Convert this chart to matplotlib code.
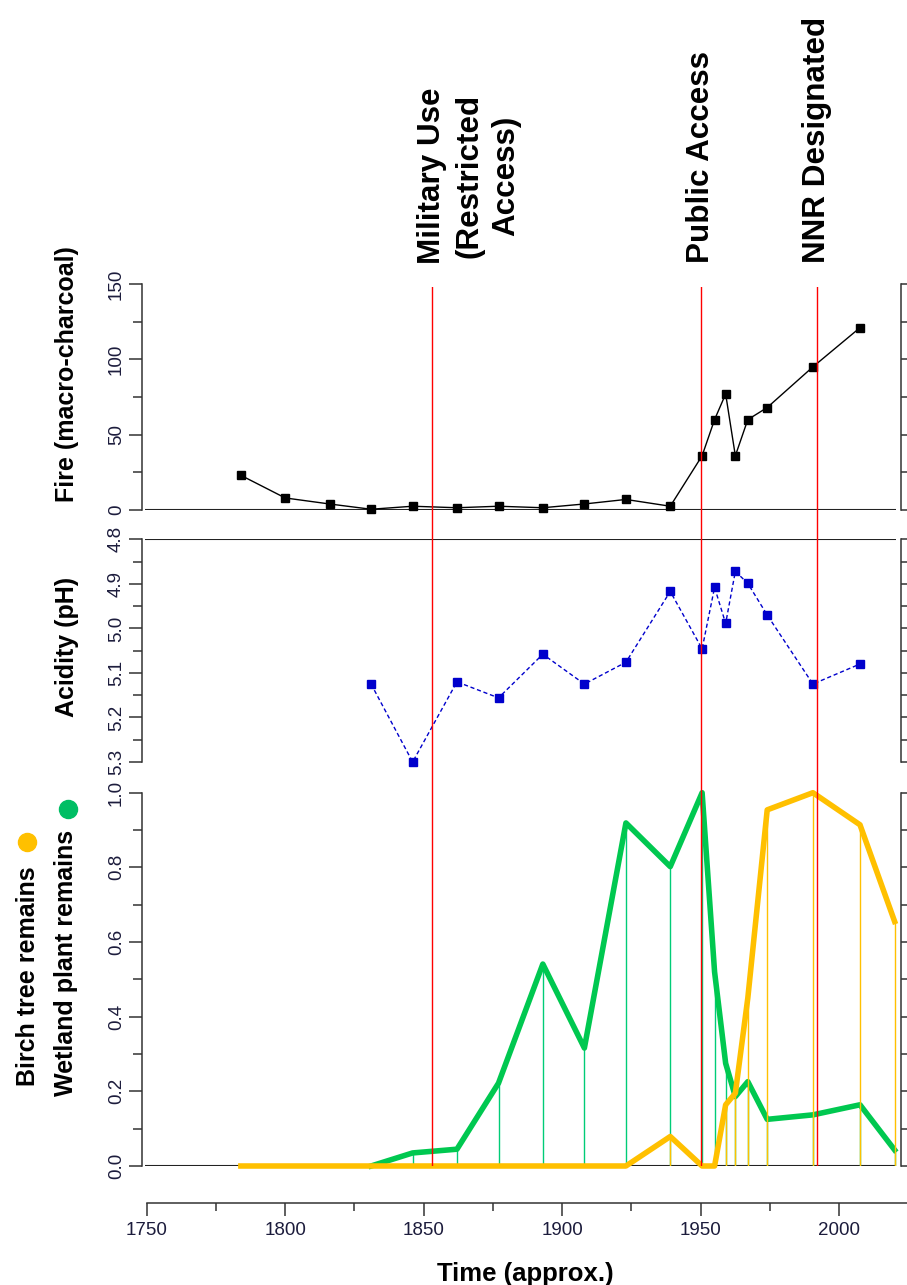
import numpy as np
import matplotlib
matplotlib.use('Agg')
import matplotlib.pyplot as plt
from matplotlib.lines import Line2D
from matplotlib.ticker import MultipleLocator, FixedLocator
from matplotlib import transforms

# ---- data ----
years = [1784, 1800, 1816, 1831, 1846, 1862, 1877, 1893, 1908, 1923, 1939,
         1950.5, 1955, 1959, 1962.5, 1967, 1974, 1990.5, 2007.5]
fire = [23, 8, 4, 0.5, 2.5, 1.5, 2.5, 1.5, 4, 7, 2.5,
        36, 60, 77, 36, 60, 68, 95, 121]

ph_years = years[3:]
ph = [5.125, 5.30, 5.12, 5.156, 5.058, 5.125, 5.076, 4.917,
      5.046, 4.908, 4.989, 4.872, 4.899, 4.970, 5.125, 5.080]

plant_years = years + [2020]
wetland = [0, 0, 0, 0, 0.035, 0.045, 0.222, 0.541, 0.316, 0.919, 0.802,
           1.0, 0.52, 0.275, 0.186, 0.226, 0.125, 0.137, 0.164, 0.043]
birch = [0, 0, 0, 0, 0, 0, 0, 0, 0, 0, 0.079,
         0, 0, 0.164, 0.195, 0.45, 0.954, 1.0, 0.914, 0.655]

event_years = [1853, 1950, 1992]
event_labels = [['Military Use', '(Restricted', 'Access)'], ['Public Access'], ['NNR Designated']]

time_major = [1750, 1800, 1850, 1900, 1950, 2000]
time_minor = [1775, 1825, 1875, 1925, 1975]

# ---- layout helpers (pixels) ----
W, H = 907, 1285
XLIM = (1748.3, 2022.3)


def box(left, top, right, bottom):
    return [left / W, 1 - bottom / H, (right - left) / W, (bottom - top) / H]


font = 'Liberation Sans'
tick_col = '#1c1c3c'
axis_col = '#333333'

GREEN = '#00C850'
GREEN_STEM = '#00CC77'
YELLOW = '#FFC000'

fig = plt.figure(figsize=(W / 100, H / 100), dpi=100)


def style_panel(ax, lo, hi, major, minor, fmt):
    ax.set_xlim(*XLIM)
    ax.set_ylim(lo, hi)
    for s in ['top', 'bottom']:
        ax.spines[s].set_visible(False)
    for s in ['left', 'right']:
        ax.spines[s].set_linewidth(1.1)
        ax.spines[s].set_color(axis_col)
    ax.set_xticks([])
    ax.yaxis.set_major_locator(MultipleLocator(major))
    ax.yaxis.set_minor_locator(MultipleLocator(minor))
    ax.tick_params(axis='y', which='both', direction='out', left=True, right=True,
                   labelright=False, width=1.1, color=axis_col, pad=3)
    ax.tick_params(axis='y', which='major', length=9.4)
    ax.tick_params(axis='y', which='minor', length=6.5)
    ax.yaxis.set_major_formatter(fmt)
    for lab in ax.get_yticklabels():
        lab.set_rotation(90)
        lab.set_va('center')
        lab.set_fontfamily(font)
        lab.set_fontsize(13.5)
        lab.set_color(tick_col)
    ax.patch.set_alpha(0)
    # baseline along the bottom of each panel
    base = hi if lo > hi else lo
    ax.hlines(base, 1749.5, 2020.5, color='#222222', lw=1.5, zorder=1)


# Fire panel
ax1 = fig.add_axes(box(142, 284, 901, 510))
ax1.plot(years, fire, color='black', lw=1.0, marker='s', ms=5.2, clip_on=False, zorder=3)
style_panel(ax1, 0, 150, 50, 25, lambda v, p: '%d' % v)

# Acidity panel (inverted)
ax2 = fig.add_axes(box(142, 539.3, 901, 762))
ax2.plot(ph_years, ph, color='#0000CC', lw=1.0, ls=(0, (3, 2)), marker='s', ms=5.2,
         clip_on=False, zorder=3)
style_panel(ax2, 5.3, 4.8, 0.1, 0.05, lambda v, p: '%.1f' % v)

# Plant remains panel
ax3 = fig.add_axes(box(142, 792.7, 901, 1166))
wet_years = [y for y, v in zip(plant_years, wetland) if v > 0]
wet_vals = [v for v in wetland if v > 0]
bir_years = [y for y, v in zip(plant_years, birch) if v > 0]
bir_vals = [v for v in birch if v > 0]
ax3.vlines(wet_years, 0, wet_vals, color=GREEN_STEM, lw=1.0, zorder=2)
ax3.plot(plant_years[3:], wetland[3:], color=GREEN, lw=4.0, zorder=3, clip_on=False)
ax3.vlines(bir_years, 0, bir_vals, color=YELLOW, lw=1.0, zorder=4)
ax3.plot(plant_years, birch, color=YELLOW, lw=4.0, zorder=5, clip_on=False)
style_panel(ax3, 0, 1.0, 0.2, 0.1, lambda v, p: '%.1f' % v)

# Time axis at the bottom (runs off the right edge like the original)
right_px = 1000
ax4 = fig.add_axes(box(142, 1150, right_px, 1203))
ax4.set_xlim(XLIM[0], XLIM[0] + (right_px - 142) / 2.77)
ax4.patch.set_alpha(0)
for s in ['top', 'left', 'right']:
    ax4.spines[s].set_visible(False)
ax4.spines['bottom'].set_bounds(1750, 2060)
ax4.spines['bottom'].set_linewidth(1.1)
ax4.spines['bottom'].set_color(axis_col)
ax4.set_yticks([])
ax4.xaxis.set_major_locator(FixedLocator(time_major))
ax4.xaxis.set_minor_locator(FixedLocator(time_minor))
ax4.tick_params(axis='x', which='both', direction='out', width=1.1, color=axis_col, pad=5)
ax4.tick_params(axis='x', which='major', length=9)
ax4.tick_params(axis='x', which='minor', length=6)
ax4.xaxis.set_major_formatter(lambda v, p: '%d' % v)
for lab in ax4.get_xticklabels():
    lab.set_fontfamily(font)
    lab.set_fontsize(13.5)
    lab.set_color(tick_col)

# Red event lines across all panels
ax5 = fig.add_axes(box(142, 287, 901, 1166))
ax5.set_xlim(*XLIM)
ax5.set_ylim(0, 1)
ax5.axis('off')
for yr in event_years:
    ax5.axvline(yr, color='#FF0000', lw=1.0)

# Event annotations above the plot
blend = transforms.blended_transform_factory(ax5.transData, fig.transFigure)
for yr, lines in zip(event_years, event_labels):
    if len(lines) == 1:
        tr = transforms.offset_copy(blend, fig=fig, x=8, y=0, units='dots')
        fig.text(yr, 1 - 263 / H, lines[0], transform=tr, rotation=90,
                 rotation_mode='anchor', ha='left', va='baseline',
                 fontsize=22.6, fontweight='bold', family=font)
    else:
        for i, line in enumerate(lines):
            tr = transforms.offset_copy(blend, fig=fig, x=8 + 37 * i, y=0, units='dots')
            fig.text(yr, 1 - 176 / H, line, transform=tr, rotation=90,
                     rotation_mode='anchor', ha='center', va='baseline',
                     fontsize=22.6, fontweight='bold', family=font)

# Left-hand axis labels
lab_kw = dict(rotation=90, rotation_mode='anchor', ha='center', va='baseline',
              fontweight='bold', family=font, color='black', fontsize=18)
fig.text(74 / W, 1 - 374 / H, 'Fire (macro-charcoal)', **lab_kw)
fig.text(74 / W, 1 - 647 / H, 'Acidity (pH)', **lab_kw)
fig.text(73 / W, 1 - 963 / H, 'Wetland plant remains', **lab_kw)
fig.text(35 / W, 1 - 976 / H, 'Birch tree remains', **lab_kw)
fig.add_artist(Line2D([68 / W], [1 - 809 / H], marker='o', ms=13, color='#00BE64',
                      transform=fig.transFigure))
fig.add_artist(Line2D([27 / W], [1 - 842 / H], marker='o', ms=13, color=YELLOW,
                      transform=fig.transFigure))

# x-axis title
fig.text(525 / W, 1 - 1281 / H, 'Time (approx.)', ha='center', va='baseline',
         fontsize=18.5, fontweight='bold', family=font)

fig.savefig('out.png', dpi=100)
